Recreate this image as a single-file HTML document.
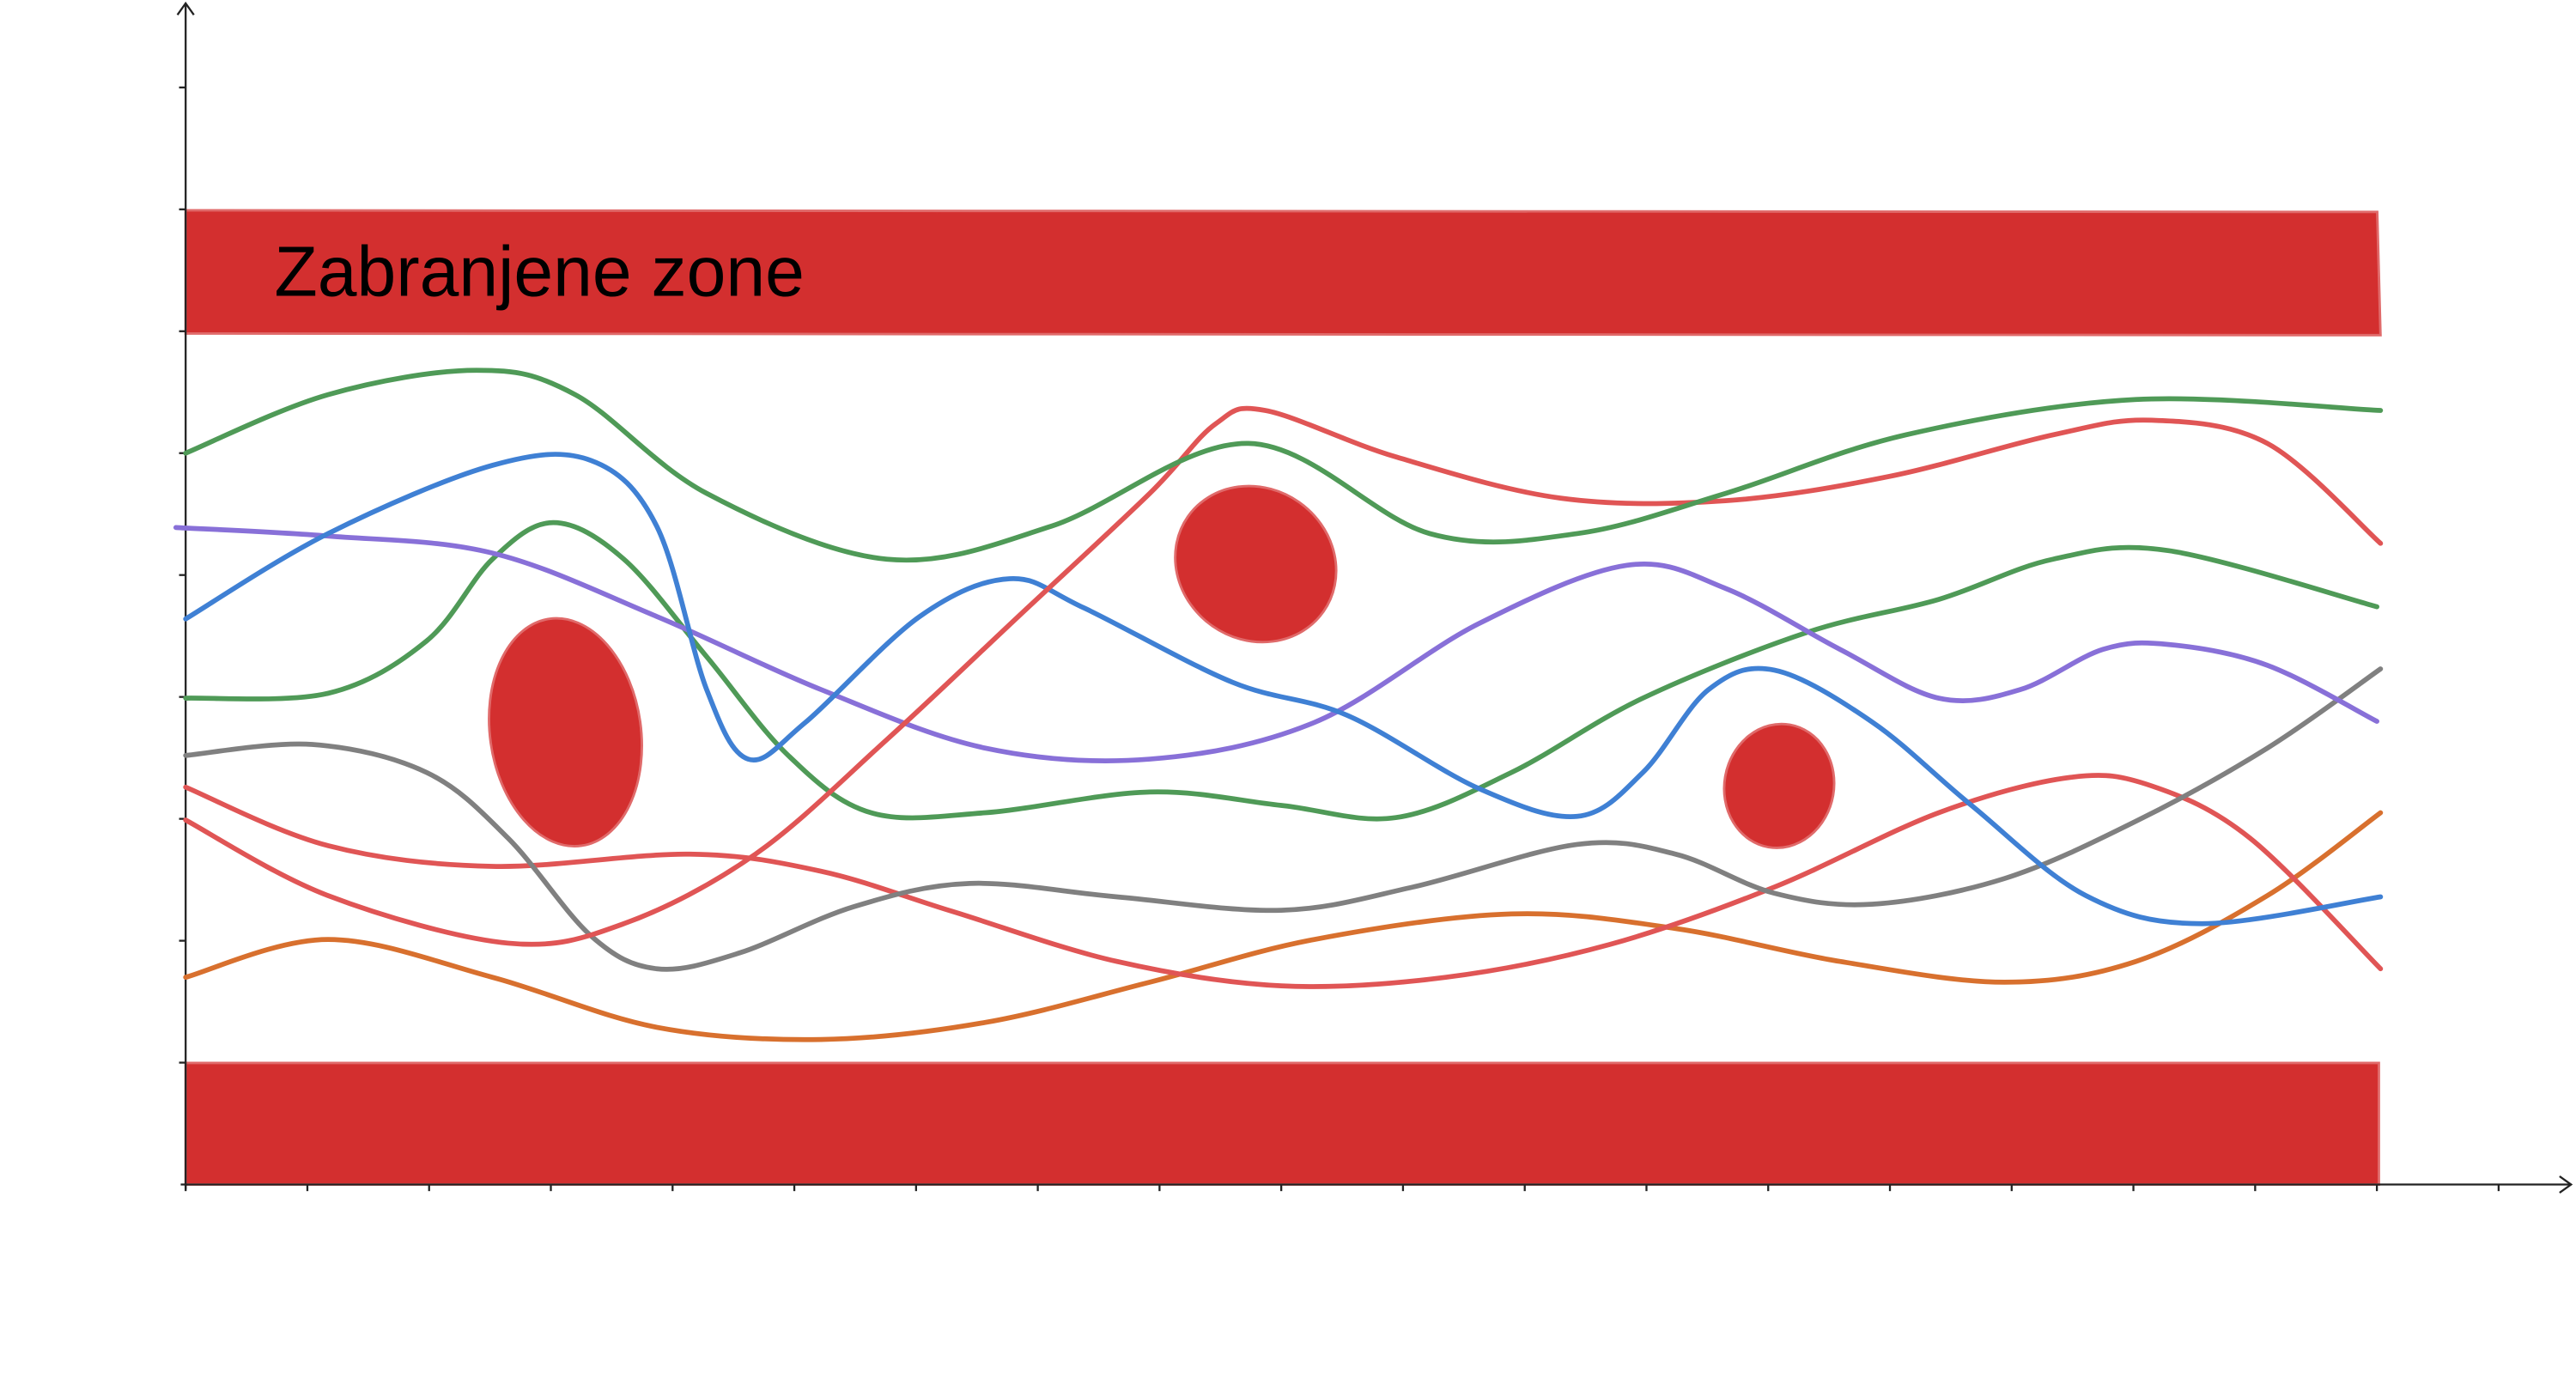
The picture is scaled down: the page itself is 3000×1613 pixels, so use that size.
<!DOCTYPE html>
<html><head><meta charset="utf-8"><style>
html,body{margin:0;padding:0;background:#fff;}
svg{display:block;}
</style></head><body>
<svg id="chart" width="3000" height="1613" viewBox="0 0 1568 843" xmlns="http://www.w3.org/2000/svg">
<g id="bands">
<polygon points="113,128 1447,129 1449,204 113,203" fill="#d32f2f" stroke="#e06a6a" stroke-width="1.5"/>
<rect x="113" y="647" width="1335" height="74" fill="#d32f2f" stroke="#e06a6a" stroke-width="1.5"/>
<text x="167" y="180" font-family="Liberation Sans, sans-serif" font-size="43" fill="#000">Zabranjene zone</text>
</g>
<g id="axes" stroke="#222" stroke-width="1.2" fill="none">
<line x1="113" y1="724" x2="113" y2="3"/>
<polyline points="108,9 113,2 118,9"/>
<line x1="110" y1="721" x2="1565" y2="721"/>
<polyline points="1558,716 1565,721 1558,726"/>
</g>
<g id="ticks" stroke="#222" stroke-width="1.2"></g>
<g id="blobs"></g>
<g id="lines" fill="none" stroke-width="3" stroke-linecap="round"></g>
</svg>
<script>
const xTicks = [0,1,2,3,4,5,6,7,8,9,10,11,12,13,14,15,16,17,18,19];
const yTicks = [1,2,3,4,5,6,7,8,9];

const green1X = [0,1.17,2.39,3.2,4.28,5.76,7.11,8.73,10.22,11.43,12.65,14.13,16.02,18.03];
const green1Y = [6.0,6.48,6.68,6.48,5.67,5.13,5.40,6.08,5.34,5.34,5.67,6.15,6.44,6.35];
const blueX = [0,1.17,2.52,3.33,3.87,4.28,4.62,5.09,6.03,6.77,7.38,8.6,9.54,10.62,11.43,11.97,12.51,13.05,13.86,14.67,15.61,16.56,18.03];
const blueY = [4.64,5.34,5.90,5.94,5.40,4.06,3.49,3.79,4.66,4.97,4.73,4.12,3.85,3.25,3.02,3.38,4.06,4.22,3.79,3.11,2.37,2.14,2.36];
const purpleX = [-0.08,1.17,2.52,3.87,5.22,6.57,7.92,9.27,10.62,11.84,12.65,13.59,14.4,15.07,15.75,16.29,17.1,18.0];
const purpleY = [5.39,5.32,5.18,4.66,4.06,3.58,3.49,3.79,4.60,5.08,4.89,4.39,3.99,4.06,4.39,4.43,4.26,3.80];
const green2X = [0,1.17,1.98,2.52,3.02,3.6,4.28,4.95,5.63,6.57,7.92,9.0,9.94,10.89,11.97,13.32,14.4,15.34,16.29,18.0];
const green2Y = [3.99,4.03,4.46,5.13,5.43,5.13,4.33,3.52,3.05,3.05,3.22,3.11,3.01,3.38,3.99,4.53,4.80,5.13,5.20,4.74];
const grayX = [0,1.04,1.98,2.65,3.33,3.87,4.55,5.49,6.44,7.65,9.0,10.08,11.43,12.24,13.05,13.86,14.94,16.02,17.1,18.03];
const grayY = [3.52,3.61,3.38,2.84,2.04,1.77,1.90,2.28,2.47,2.36,2.25,2.44,2.79,2.71,2.39,2.30,2.51,2.98,3.58,4.23];
const red1X = [0,1.17,2.52,4.14,5.22,6.3,7.65,9.0,10.35,11.7,13.05,14.4,15.48,16.15,16.96,18.03];
const red1Y = [3.26,2.78,2.61,2.71,2.57,2.24,1.83,1.63,1.70,1.97,2.44,3.05,3.34,3.27,2.84,1.77];
const red2X = [0,1.17,2.65,3.6,4.68,5.76,6.84,7.92,8.46,8.87,9.94,11.3,12.65,14.0,15.34,16.15,17.1,18.03];
const red2Y = [2.99,2.37,1.98,2.14,2.71,3.65,4.66,5.67,6.24,6.35,5.97,5.63,5.61,5.81,6.15,6.27,6.08,5.26];
const orangeX = [0,1.17,2.52,3.87,5.22,6.57,7.92,9.27,10.89,12.24,13.59,14.94,16.02,17.1,18.03];
const orangeY = [1.70,2.01,1.70,1.29,1.19,1.33,1.66,2.01,2.22,2.10,1.83,1.66,1.83,2.37,3.05];

const blobCX = [3.12,8.79,13.09];
const blobCY = [3.71,5.09,3.27];
const blobRX = [0.62,0.68,0.45];
const blobRY = [0.94,0.62,0.51];
const blobRot = [-8,35,10];

const X0 = 113, XU = 74.1, Y0 = 721, YU = 74.2;
function sx(v){return X0 + v*XU;}
function sy(v){return Y0 - v*YU;}
const NS = "http://www.w3.org/2000/svg";

const tg = document.getElementById('ticks');
xTicks.forEach(t=>{
  const l=document.createElementNS(NS,'line');
  
  
  l.setAttribute('x1',sx(t));l.setAttribute('x2',sx(t));
  l.setAttribute('y1',Y0);l.setAttribute('y2',Y0+4);
  tg.appendChild(l);
});
yTicks.forEach(t=>{
  const l=document.createElementNS(NS,'line');
  
  
  l.setAttribute('x1',X0-4);l.setAttribute('x2',X0);
  l.setAttribute('y1',sy(t));l.setAttribute('y2',sy(t));
  tg.appendChild(l);
});

const bg = document.getElementById('blobs');
blobCX.forEach((c,i)=>{
  const e=document.createElementNS(NS,'ellipse');
  
  
  const cx=sx(c), cy=sy(blobCY[i]);
  e.setAttribute('cx',cx);e.setAttribute('cy',cy);
  e.setAttribute('rx',blobRX[i]*XU);e.setAttribute('ry',blobRY[i]*YU);
  e.setAttribute('transform','rotate('+blobRot[i]+' '+cx+' '+cy+')');
  e.setAttribute('fill','#d32f2f');e.setAttribute('stroke','#e06a6a');e.setAttribute('stroke-width','1.5');
  bg.appendChild(e);
});

function smoothPath(xs,ys){
  const p=xs.map((x,i)=>[sx(x),sy(ys[i])]);
  let d='M'+p[0][0]+','+p[0][1];
  for(let i=0;i<p.length-1;i++){
    const p0=p[i-1]||p[i],p1=p[i],p2=p[i+1],p3=p[i+2]||p[i+1];
    const c1=[p1[0]+(p2[0]-p0[0])/6,p1[1]+(p2[1]-p0[1])/6];
    const c2=[p2[0]-(p3[0]-p1[0])/6,p2[1]-(p3[1]-p1[1])/6];
    d+=' C'+c1[0]+','+c1[1]+' '+c2[0]+','+c2[1]+' '+p2[0]+','+p2[1];
  }
  return d;
}
const lg=document.getElementById('lines');
function addLine(name,xs,ys,color){
  const path=document.createElementNS(NS,'path');
  
  
  path.setAttribute('d',smoothPath(xs,ys));
  path.setAttribute('stroke',color);
  lg.appendChild(path);
}
addLine('orange-path',orangeX,orangeY,'#d8702e');
addLine('red-path-lower',red1X,red1Y,'#e05555');
addLine('gray-path',grayX,grayY,'#808080');
addLine('green-path-middle',green2X,green2Y,'#4f9a57');
addLine('purple-path',purpleX,purpleY,'#8870d8');
addLine('blue-path',blueX,blueY,'#3f80d4');
addLine('red-path-upper',red2X,red2Y,'#e05555');
addLine('green-path-top',green1X,green1Y,'#4f9a57');
</script>
</body></html>
